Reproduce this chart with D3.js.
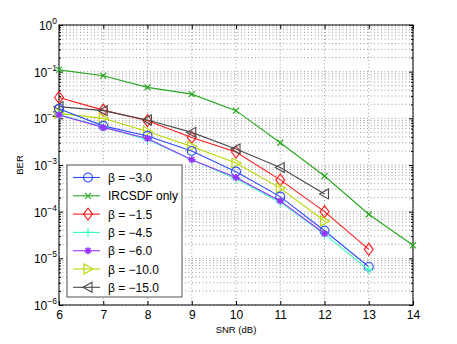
<!DOCTYPE html>
<html><head><meta charset="utf-8">
<script src="https://cdn.jsdelivr.net/npm/d3@7"></script>
<style>body{margin:0;background:#fff}svg{font-family:"Liberation Sans",Arial,sans-serif}</style>
</head><body><svg id="c" width="457" height="344"></svg>
<script>
const snr = [6,7,8,9,10,11,12,13,14];
const xTicks = [6,7,8,9,10,11,12,13,14];
const yTickExps = [0,-1,-2,-3,-4,-5,-6];
const seriesNames = ["β = −3.0","IRCSDF only","β = −1.5","β = −4.5","β = −6.0","β = −10.0","β = −15.0"];
const seriesColors = ["#2f4dff","#27a81e","#ff1a1a","#33ffbb","#9933ff","#b8d800","#4a4a4a"];
const seriesMarkers = ["circle","x","diamond","plus","star","triRight","triLeft"];
const beta3  = [0.016,0.0069,0.0042,0.0020,7.2e-4,2.1e-4,3.9e-5,6.6e-6];
const ircsdf = [0.109,0.082,0.046,0.033,0.0146,0.0030,5.8e-4,8.8e-5,1.9e-5];
const beta15 = [0.028,0.015,0.0089,0.0039,0.0019,4.8e-4,1.0e-4,1.56e-5];
const beta45 = [0.0120,0.0065,0.0035,0.0013,5.1e-4,1.6e-4,3.3e-5,5.6e-6];
const beta6  = [0.0118,0.0064,0.0037,0.0013,5.4e-4,1.7e-4,3.4e-5];
const beta10 = [0.0128,0.0100,0.0052,0.0025,0.0011,3.2e-4,6.3e-5];
const beta150= [0.0178,0.0146,0.0092,0.0050,0.0022,8.8e-4,2.4e-4];
const seriesValues = [beta3,ircsdf,beta15,beta45,beta6,beta10,beta150];

const svg = d3.select("#c");
const L=59,R=413,T=25,B=305;
const x = d3.scaleLinear().domain([6,14]).range([L,R]);
const y = d3.scaleLog().domain([1e-6,1]).range([B,T]);

// grid
const g = svg.append("g");
const minor = [];
for (let e=-6;e<0;e++) for (let k=1;k<10;k++) minor.push(k*Math.pow(10,e));
minor.push(1);
g.selectAll(".hg").data(minor).enter().append("line")
 .attr("x1",L).attr("x2",R).attr("y1",d=>y(d)).attr("y2",d=>y(d))
 .attr("stroke","#9a9a9a").attr("stroke-width",1).attr("stroke-dasharray","1,2.5");
g.selectAll(".vg").data(xTicks).enter().append("line")
 .attr("y1",T).attr("y2",B).attr("x1",d=>x(d)).attr("x2",d=>x(d))
 .attr("stroke","#9a9a9a").attr("stroke-width",1).attr("stroke-dasharray","1,2.5");

// axes
const fmtExp = e => e===0?"0":"−"+Math.abs(e);
const axB = svg.append("g").attr("transform",`translate(0,${B})`)
 .call(d3.axisBottom(x).tickValues(xTicks).tickSizeInner(-4).tickSizeOuter(0).tickPadding(5).tickFormat(d3.format("d")));
const axT = svg.append("g").attr("transform",`translate(0,${T})`)
 .call(d3.axisTop(x).tickValues(xTicks).tickSizeInner(-4).tickSizeOuter(0).tickFormat(""));
const yMajor = yTickExps.map(e=>Math.pow(10,e));
const yMinor = minor.filter(v=>!yMajor.some(m=>Math.abs(m-v)<1e-12));
svg.append("g").attr("transform",`translate(${L},0)`)
 .call(d3.axisLeft(y).tickValues(yMajor).tickSizeInner(-4).tickSizeOuter(0).tickFormat(""));
svg.append("g").attr("transform",`translate(${R},0)`)
 .call(d3.axisRight(y).tickValues(yMajor).tickSizeInner(-4).tickSizeOuter(0).tickFormat(""));
svg.append("g").attr("transform",`translate(${L},0)`)
 .call(d3.axisLeft(y).tickValues(yMinor).tickSizeInner(-2).tickSizeOuter(0).tickFormat(""));
svg.append("g").attr("transform",`translate(${R},0)`)
 .call(d3.axisRight(y).tickValues(yMinor).tickSizeInner(-2).tickSizeOuter(0).tickFormat(""));
svg.selectAll(".domain").remove();
svg.selectAll(".tick line").attr("stroke","#000");
axB.selectAll("text").attr("font-size",12).attr("fill","#000");
svg.append("rect").attr("x",L).attr("y",T).attr("width",R-L).attr("height",B-T)
 .attr("fill","none").attr("stroke","#000").attr("stroke-width",1);

// y labels
const yl = svg.append("g");
yTickExps.forEach(e=>{
  const t = yl.append("text").attr("x",L-2).attr("y",y(Math.pow(10,e))+5)
   .attr("text-anchor","end").attr("font-size",12).attr("fill","#000");
  t.append("tspan").text("10");
  t.append("tspan").attr("dy",-6).attr("font-size",8.5).text(fmtExp(e));
});

svg.append("text").attr("x",236).attr("y",333).attr("text-anchor","middle").attr("font-size",9.5).text("SNR (dB)");
svg.append("text").attr("transform","translate(23,165) rotate(-90)").attr("text-anchor","middle").attr("font-size",9.5).text("BER");

function marker(sel,type,color){
  if(type==="circle") sel.append("circle").attr("r",4.5).attr("fill","none").attr("stroke",color).attr("stroke-width",1.1);
  else if(type==="x") sel.append("path").attr("d",`M-3,-3L3,3M-3,3L3,-3`).attr("stroke",color).attr("stroke-width",1.2);
  else if(type==="diamond") sel.append("path").attr("d",`M0,-6L4.5,0L0,6L-4.5,0Z`).attr("fill","none").attr("stroke",color).attr("stroke-width",1.1);
  else if(type==="plus") sel.append("path").attr("d",`M-4.5,0H4.5M0,-4.5V4.5`).attr("stroke",color).attr("stroke-width",1.1);
  else if(type==="star") sel.append("path").attr("d",`M-3.5,0H3.5M0,-3.5V3.5M-2.6,-2.6L2.6,2.6M-2.6,2.6L2.6,-2.6`).attr("stroke",color).attr("stroke-width",1.5);
  else if(type==="triRight") sel.append("path").attr("d",`M5,0L-4,-5L-4,5Z`).attr("fill","none").attr("stroke",color).attr("stroke-width",1.1);
  else if(type==="triLeft") sel.append("path").attr("d",`M-5,0L4,-5L4,5Z`).attr("fill","none").attr("stroke",color).attr("stroke-width",1.1);
}

const line = d3.line().x((d,i)=>x(snr[i])).y(d=>y(d));
const order=[1,2,6,5,0,3,4];
order.forEach(si=>{
  const vals=seriesValues[si], c=seriesColors[si];
  svg.append("path").attr("d",line(vals)).attr("fill","none").attr("stroke",c).attr("stroke-width",1.1);
  vals.forEach((v,i)=>{
    const m=svg.append("g").attr("transform",`translate(${x(snr[i])},${y(v)})`);
    marker(m,seriesMarkers[si],c);
  });
});

// legend
const lg = svg.append("g");
lg.append("rect").attr("x",67).attr("y",165).attr("width",115).attr("height",132)
 .attr("fill","#fff").attr("stroke","#555").attr("stroke-width",1);
seriesNames.forEach((n,i)=>{
  const yy=177.5+i*18.3;
  lg.append("line").attr("x1",73).attr("x2",100).attr("y1",yy).attr("y2",yy).attr("stroke",seriesColors[i]).attr("stroke-width",1.1);
  marker(lg.append("g").attr("transform",`translate(88,${yy})`),seriesMarkers[i],seriesColors[i]);
  lg.append("text").attr("x",108).attr("y",yy+4.5).attr("font-size",12).text(n);
});
</script></body></html>
